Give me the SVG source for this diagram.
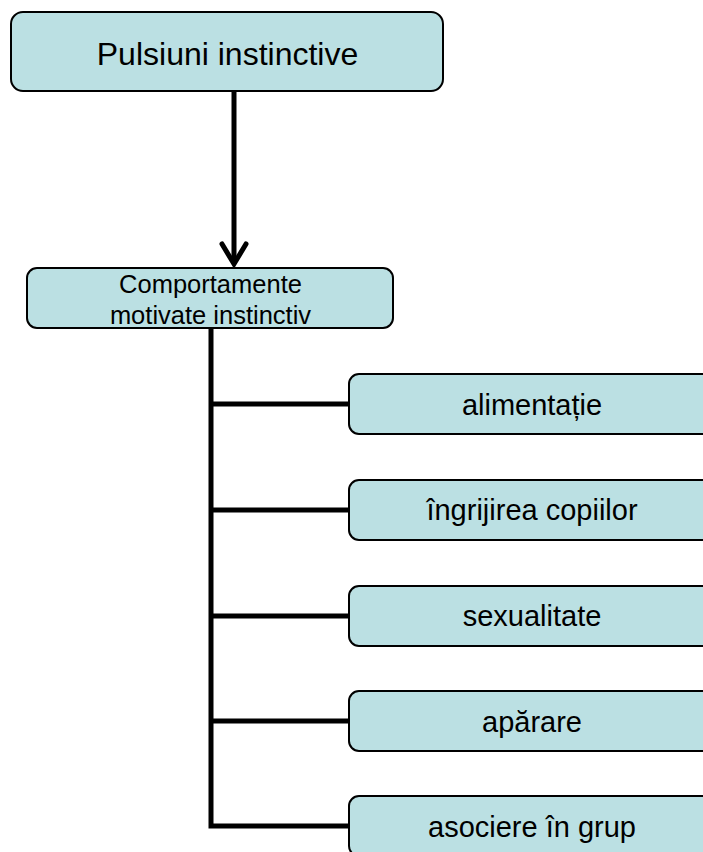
<svg xmlns="http://www.w3.org/2000/svg" width="703" height="852" viewBox="0 0 703 852">
<style>
.box{fill:#BBE0E3;stroke:#000;stroke-width:2}
.t{font-family:"Liberation Sans",Arial,sans-serif;fill:#000;text-anchor:middle}
.r{font-size:29px}
.c{fill:none;stroke:#000;stroke-width:5}
</style>
<rect width="703" height="852" fill="#fff"/>
<g id="connectors">
<line class="c" x1="234" y1="91" x2="234" y2="264"/>
<polyline class="c" points="222,244 234,264 246,244" stroke-linecap="round"/>
<polyline class="c" points="211,328 211,826 350,826"/>
<line class="c" x1="211" y1="404" x2="350" y2="404"/>
<line class="c" x1="211" y1="510" x2="350" y2="510"/>
<line class="c" x1="211" y1="616" x2="350" y2="616"/>
<line class="c" x1="211" y1="721" x2="350" y2="721"/>
</g>
<g id="n0"><rect class="box" x="11" y="12" width="432" height="79" rx="12"/><text class="t" x="227.5" y="65" font-size="32">Pulsiuni instinctive</text></g>
<g id="n1"><rect class="box" x="27" y="268" width="366" height="60" rx="10"/><text class="t" x="210.5" y="293" font-size="25.5">Comportamente</text><text class="t" x="210.5" y="323.5" font-size="25.5">motivate instinctiv</text></g>
<g id="n2"><rect class="box" x="349" y="374" width="370" height="60" rx="10"/><text class="t r" x="532" y="414.5">alimentație</text></g>
<g id="n3"><rect class="box" x="349" y="480" width="370" height="60" rx="10"/><text class="t r" x="532" y="520">îngrijirea copiilor</text></g>
<g id="n4"><rect class="box" x="349" y="586" width="370" height="60" rx="10"/><text class="t r" x="532" y="625.5">sexualitate</text></g>
<g id="n5"><rect class="box" x="349" y="691" width="370" height="60" rx="10"/><text class="t r" x="532" y="731.5">apărare</text></g>
<g id="n6"><rect class="box" x="349" y="796" width="370" height="60" rx="10"/><text class="t r" x="532" y="836.5">asociere în grup</text></g>
</svg>
